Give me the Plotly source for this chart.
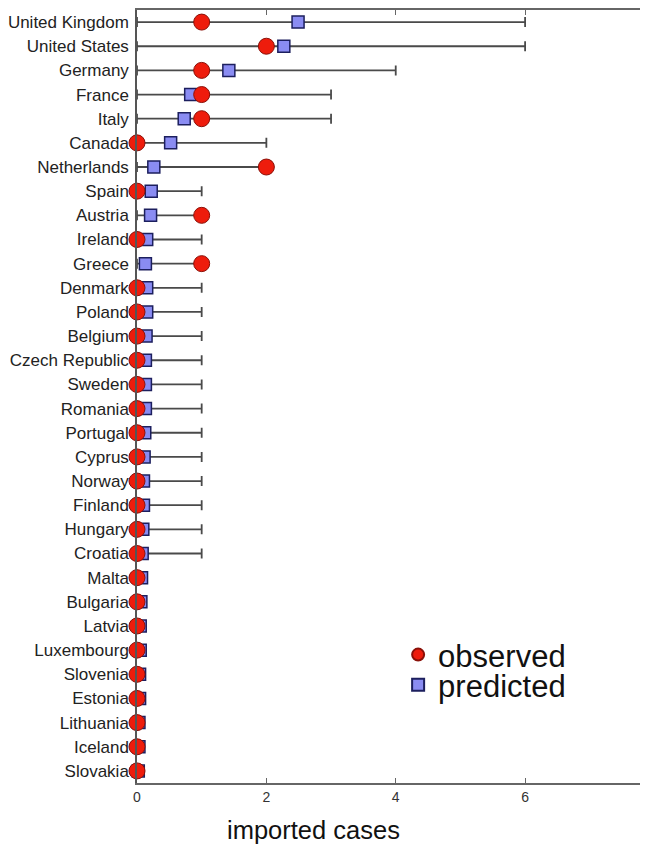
import plotly.graph_objects as go

countries = ["United Kingdom", "United States", "Germany", "France", "Italy", "Canada",
             "Netherlands", "Spain", "Austria", "Ireland", "Greece", "Denmark", "Poland",
             "Belgium", "Czech Republic", "Sweden", "Romania", "Portugal", "Cyprus", "Norway",
             "Finland", "Hungary", "Croatia", "Malta", "Bulgaria", "Latvia", "Luxembourg",
             "Slovenia", "Estonia", "Lithuania", "Iceland", "Slovakia"]
observed = [1, 2, 1, 1, 1, 0, 2, 0, 1, 0, 1, 0, 0, 0, 0, 0, 0, 0, 0, 0, 0, 0, 0,
            0, 0, 0, 0, 0, 0, 0, 0, 0]
predicted = [2.49, 2.27, 1.42, 0.83, 0.73, 0.52, 0.26, 0.22, 0.21, 0.15, 0.13, 0.15, 0.15,
             0.14, 0.13, 0.13, 0.13, 0.12, 0.11, 0.10, 0.10, 0.09, 0.08, 0.07, 0.06, 0.05,
             0.05, 0.04, 0.04, 0.03, 0.03, 0.02]
upper = [6, 6, 4, 3, 3, 2, 2, 1, 1, 1, 1, 1, 1, 1, 1, 1, 1, 1, 1, 1, 1, 1, 1,
         0, 0, 0, 0, 0, 0, 0, 0, 0]
lower = [0] * len(countries)
x_ticks = [0, 2, 4, 6]
x_title = "imported cases"

err_plus = [u - p if u > 0 else 0 for u, p in zip(upper, predicted)]
err_minus = [p - l if u > 0 else 0 for u, p, l in zip(upper, predicted, lower)]

FONT = "Liberation Sans, Arial, sans-serif"

fig = go.Figure()
fig.add_trace(go.Scatter(
    x=predicted, y=countries, mode="markers", name="predicted", legend="legend2",
    cliponaxis=False,
    marker=dict(symbol="square", size=12, color="#8a8cf2",
                line=dict(color="#1c1f5e", width=1.5)),
    error_x=dict(type="data", symmetric=False, array=err_plus, arrayminus=err_minus,
                 color="#4a4a4a", thickness=1.8, width=5),
))
fig.add_trace(go.Scatter(
    x=observed, y=countries, mode="markers", name="observed", legend="legend",
    cliponaxis=False,
    marker=dict(symbol="circle", size=16, color="#ee1c0c",
                line=dict(color="#8a1008", width=1)),
))

legend_style = dict(xanchor="left", yanchor="top", bgcolor="rgba(0,0,0,0)",
                    font=dict(size=31, color="#111111"), itemsizing="constant")

fig.update_layout(
    width=640, height=845,
    margin=dict(l=129, r=0, t=2, b=70, autoexpand=False),
    plot_bgcolor="white", paper_bgcolor="white",
    font=dict(family=FONT, color="#222222"),
    showlegend=True,
    legend=dict(x=0.511, y=0.2006, **legend_style),
    legend2=dict(x=0.511, y=0.1616, **legend_style),
    xaxis=dict(range=[0, 7.9], tickvals=x_ticks, ticktext=[str(t) for t in x_ticks],
               automargin=False,
               showgrid=False, zeroline=False, showline=True, linecolor="#666666",
               linewidth=2, mirror="ticks", ticks="inside", ticklen=5,
               tickcolor="#666666", tickfont=dict(size=14, color="#333333")),
    yaxis=dict(categoryorder="array", categoryarray=countries[::-1],
               range=[-0.5, len(countries) - 0.5], automargin=False,
               showgrid=False, zeroline=False, showline=True, linecolor="#555555",
               linewidth=1.5, ticks="", ticklabelstandoff=3,
               tickfont=dict(size=17, color="#222222")),
    annotations=[dict(text=x_title, xref="paper", yref="paper",
                      x=0.346, y=-0.061, xanchor="center", yanchor="middle",
                      showarrow=False, font=dict(size=25.5, color="#111111"))],
)

fig.write_html("out.html")
